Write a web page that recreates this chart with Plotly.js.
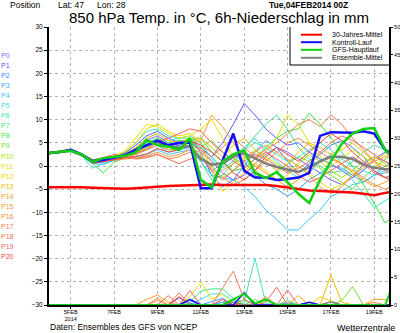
<!DOCTYPE html>
<html>
<head>
<meta charset="utf-8">
<script src="https://cdn.plot.ly/plotly-3.0.1.min.js"></script>
<style>html,body{margin:0;padding:0;background:#fff;}#chart{width:400px;height:333px;}</style>
</head>
<body>
<div id="chart"></div>
<script>
// ---- DATA ----
const stepDays = [0,0.5,1,1.5,2,2.5,3,3.5,4,4.5,5,5.5,6,6.5,7,7.5,8,8.5,9,9.5,10,10.5,11,11.5,12,12.5,13,13.5,14,14.5,15,15.5,16];
const tickDays = [1,3,5,7,9,11,13,15];
const tickLabels = ["5FEB<br>2014","7FEB","9FEB","11FEB","13FEB","15FEB","17FEB","19FEB"];
const memberNames = ["P0","P1","P2","P3","P4","P5","P6","P7","P8","P9","P10","P11","P12","P13","P14","P15","P16","P17","P18","P19","P20"];

// 850 hPa temperature of ensemble members (°C)
const tP0  = [2.6,2.9,3.3,2.3,0.8,1.2,1.9,2.6,3.8,5.5,6.5,5.0,4.5,5.2, 3.5,1.0,-1.5,-3.0,-2.0,0.5,2.5,4.0,3.0,1.5,0.0,-1.5,-3.0,-4.0,-2.5,0.5,2.0,1.0,-0.5];
const tP1  = [2.7,3.0,3.5,2.6,1.0,1.4,2.0,2.8,4.5,6.5,7.5,6.0,5.0,5.5, 4.0,2.0,5.0,9.0,13.5,11.0,8.0,6.0,4.5,5.0,3.0,1.5,0.5,-1.0,-2.5,-1.0,1.5,3.0,2.5];
const tP2  = [2.8,3.1,3.4,2.4,0.7,1.0,1.6,2.2,3.0,4.0,5.0,4.0,4.5,5.5, 3.0,-2.0,-4.5,-3.0,0.0,3.0,5.5,4.0,1.0,-1.5,0.5,2.5,4.5,5.5,4.0,2.0,-1.0,-2.5,-3.0];
const tP3  = [2.6,2.9,3.2,2.2,0.5,0.8,1.5,2.0,2.5,3.5,4.5,3.0,3.5,4.0, 2.0,-1.0,0.5,2.5,1.0,-2.0,-4.0,-5.0,-6.5,-5.0,-3.0,-1.5,0.0,-0.5,-2.0,-3.5,-2.0,0.0,1.0];
const tP4  = [2.8,3.0,3.3,2.4,0.6,0.3,1.2,1.8,2.0,2.5,3.5,2.5,3.0,3.5, 1.0,-2.0,-2.5,-3.0,-4.5,-6.6,-9.5,-11.5,-13.8,-13.8,-11.5,-9.5,-6.6,-5.5,-4.0,-3.5,-2.0,-1.5,-1.0];
const tP5  = [2.7,3.0,3.4,2.3,-0.5,0.5,1.4,2.5,4.0,6.0,7.0,5.5,6.0,6.5, 5.0,1.5,0.0,2.0,4.0,6.0,3.0,1.0,-1.0,-2.5,-1.5,1.0,2.5,1.5,0.0,-1.0,-2.0,-1.0,0.5];
const tP6  = [2.8,3.1,3.6,2.6,1.1,1.5,2.1,3.0,5.0,7.5,8.0,6.5,6.0,6.0, 4.5,2.0,-0.5,1.0,3.5,5.0,4.0,2.5,1.0,2.0,3.5,5.0,3.5,0.5,-3.0,-6.0,-9.0,-7.5,-6.0];
const tP7  = [2.7,3.0,3.3,2.5,0.9,1.3,1.8,2.3,3.5,5.0,6.0,4.5,4.0,4.0, 1.0,-3.0,-2.0,0.5,3.5,6.5,9.0,11.0,8.0,4.0,1.5,0.0,-1.5,-1.0,1.0,3.0,4.5,3.5,2.0];
const tP8  = [2.9,3.2,3.5,2.4,0.6,-1.5,0.8,1.8,3.0,4.5,6.0,5.0,5.5,5.5, 6.0,3.0,1.0,-1.0,-0.5,1.5,4.0,6.0,7.5,8.0,11.4,9.0,6.0,3.0,0.0,-4.0,-8.0,-12.3,-10.5];
const tP9  = [2.8,3.0,3.3,2.5,1.0,1.4,1.9,2.4,3.3,4.5,5.5,4.5,5.0,5.2, 4.0,5.5,3.0,1.5,0.5,-1.0,-2.5,-1.5,0.5,2.0,1.0,-0.5,-2.0,-3.5,-5.0,-2.5,-0.5,1.5,3.0];
const tP10 = [2.6,2.9,3.2,2.3,0.8,1.2,1.7,2.1,2.8,4.0,5.0,3.5,3.5,4.5, 2.5,0.0,-2.5,-1.0,1.5,3.5,2.0,0.5,-1.0,0.5,2.5,1.0,-1.0,-2.5,-1.0,1.0,2.0,0.5,-1.5];
const tP11 = [2.7,3.0,3.4,2.5,1.0,1.5,2.1,3.2,6.0,9.0,8.5,7.0,6.0,6.5, 8.0,10.0,6.0,2.0,-1.0,0.5,3.0,6.0,11.0,9.0,5.0,2.0,0.0,1.5,3.5,2.0,0.5,-1.0,-2.0];
const tP12 = [2.8,3.1,3.5,2.6,1.1,1.6,2.2,3.0,5.0,8.0,9.0,7.5,6.5,7.0, 5.0,-1.0,-5.5,-3.5,-1.5,0.5,-1.0,-3.0,-2.0,0.0,-1.5,-3.5,-5.0,-4.0,-2.0,0.0,1.5,2.5,3.5];
const tP13 = [2.9,3.2,3.6,2.6,1.0,1.2,1.7,2.5,4.0,6.0,7.0,5.5,5.0,6.0, 6.0,4.0,2.0,4.5,6.0,3.5,1.0,-1.0,0.5,3.0,5.0,4.0,2.5,3.5,5.0,3.0,1.0,0.0,-0.5];
const tP14 = [2.7,3.0,3.3,2.4,0.8,1.0,1.5,1.9,2.5,3.5,4.5,3.5,4.0,5.0, 5.5,11.0,8.5,5.0,2.0,0.0,-1.5,-3.0,-4.5,-3.0,-1.0,1.0,2.0,0.5,-1.5,-3.0,-4.5,-3.5,-2.0];
const tP15 = [2.8,3.0,3.3,2.5,0.9,1.3,1.5,1.6,1.8,2.2,3.0,2.0,2.5,3.5, 3.0,1.0,-1.0,0.5,2.0,3.0,4.5,3.0,1.5,0.0,-2.0,-4.5,-6.0,-4.5,-2.0,-0.5,1.0,2.0,2.5];
const tP16 = [2.6,2.9,3.2,2.2,0.7,1.0,1.3,1.5,1.7,2.0,2.5,1.5,2.0,3.0, 2.0,-0.5,-2.5,-4.0,-3.0,-1.0,1.0,3.0,5.0,6.0,4.5,3.0,1.5,0.5,-1.0,-2.5,-4.0,-5.0,-4.0];
const tP17 = [2.7,3.0,3.4,2.6,1.2,1.6,2.0,2.4,3.0,4.5,5.5,4.5,4.0,4.5, 3.5,2.0,4.0,6.0,4.0,2.0,3.5,5.0,7.0,9.0,10.0,8.5,11.0,9.0,6.0,3.5,1.0,-1.0,-2.0];
const tP18 = [2.9,3.2,3.6,2.7,1.3,1.8,2.5,2.0,1.5,1.8,2.5,1.5,0.5,1.5, 2.0,-1.0,-3.0,-1.0,1.0,2.5,1.5,0.0,-1.5,-0.5,1.0,3.0,5.0,6.5,5.5,4.0,2.5,1.0,0.0];
const tP19 = [2.8,3.0,3.4,2.4,0.9,1.4,1.9,2.4,2.8,3.6,5.2,6.0,7.0,8.0, 7.5,5.0,3.0,1.0,-0.5,1.5,3.0,1.5,0.0,-2.0,-3.5,-2.5,-1.0,0.5,2.0,0.5,-1.5,-2.5,-3.5];
const tP20 = [2.7,2.9,3.2,2.3,0.6,0.9,1.4,1.8,2.1,2.6,3.8,3.0,3.5,5.5, 4.5,3.0,1.0,-1.5,-3.0,-1.0,2.0,4.0,2.5,1.0,3.0,5.0,7.0,5.5,3.0,1.0,-1.0,-2.5,-1.5];

const tClimate = [-4.6,-4.6,-4.5,-4.6,-4.7,-4.8,-4.9,-4.9,-4.8,-4.7,-4.5,-4.3,-4.2,-4.1,-4.0,-4.0,-4.1,-4.1,-4.2,-4.2,-4.1,-4.3,-4.6,-5.0,-5.3,-5.4,-5.5,-5.6,-5.7,-6.0,-6.3,-5.8,-5.4];
const tControl = [2.8,3.0,3.5,2.5,1.0,1.3,1.8,2.3,3.5,4.5,5.5,4.5,5.0,5.0, -4.8,-4.8,1.0,7.0,-1.0,-2.5,-2.5,-3.0,-2.8,-2.5,-1.5,6.5,7.3,7.3,7.2,7.5,7.0,3.5,2.0];
const tMain    = [2.8,3.1,3.3,2.5,0.9,1.7,2.0,2.2,3.0,5.6,4.5,4.2,3.5,6.0, -3.0,-4.6,1.0,2.5,3.4,-1.5,-2.6,-1.3,-3.5,-6.0,-8.0,-3.0,1.0,4.8,7.0,8.0,8.2,3.5,1.0];
const tMean    = [2.8,3.0,3.3,2.4,1.2,1.5,1.9,2.4,3.5,4.5,5.2,4.2,4.0,4.3, 1.5,0.3,0.6,2.0,2.8,1.7,0.5,-0.2,-0.8,-1.3,-0.3,1.0,2.0,2.0,1.5,0.3,-0.4,-0.7,-0.7];

// 6h precipitation (mm), right axis
const pP0  = [0,0,0,0,0,0,0,0,0,0,0, 0,0,0,0,0,0.5,0,0,0,0,0, 0,0,0,0,0,0,0,0,0,0,0];
const pP1  = [0,0,0,0,0,0,0,0,0,0,0, 0,1.3,0.3,0,0,0,0,0,0,0,0, 0,0,0,0,0,0,0,0,0,0,0];
const pP2  = [0,0,0,0,0,0,0,0,0,0,0, 0,0,0.8,0,0,0,0,0,0,0,0, 0.4,0,0,0,0,0,0,0,0,0,0];
const pP3  = [0,0,0,0,0,0,0,0,0,0,0, 0,0,0,0,0.6,1.2,0,0,0,0,0, 0,0,0,0,0,0,0,0,0,0,0];
const pP4  = [0,0,0,0,0,0,0,0,0,0,0, 0,0,0,0,0,0.5,0.8,0,0,0,0, 0,0,0,0,0,0,0,0,0,0,0];
const pP5  = [0,0,0,0,0,0,0,0,0,0,0, 0,0,0,1.0,2.0,2.0,0.8,0.8,0,0,0, 0,0,0,0,0,0,0,0,0,0,0];
const pP6  = [0,0,0,0,0,0,0,0,0,0,0, 0,0,0,0,0,0,0,0.5,8.4,0.3,0, 0,0,0,0,0,0,0,0,0,0,0];
const pP7  = [0,0,0,0,0,0,0,0,0,0,0, 0,0,0.5,2.5,2.9,2.9,1.2,0,0,0,0, 0,0,0,0,0,0,0,0,0,0,0];
const pP8  = [0,0,0,0,0,0,0,0,0,0,0, 0,0,0,0,0,0,0,0,1.0,0,0, 0.8,0,0,0,0,0,0,0,0,0,0];
const pP9  = [0,0,0,0,0,0,0,0,0,0,0, 0,0,0,0,0,0,0,0,0,0,0, 0,0,0,0,0,0.8,3.3,0,0,0,0];
const pP10 = [0,0,0,0,0,0,0,0,0,0,0, 0,0,0,0,0,0,1.0,0,0,0,0, 0,0,0.5,0,0,0,0,0,0,0,0];
const pP11 = [0,0,0,0,0,0,0,0,0,0,0, 0,0,1.5,4.1,1.0,2.0,0,0,0,0,0, 0,0,0,0,0,0,0,0,0,0,0];
const pP12 = [0,0,0,0,0,0,0,0,0,0,0, 0,0,0,0,0,0,0,0,0,0,0, 0,0,0,1.5,0.8,0,0,0,0,0,0];
const pP13 = [0,0,0,0,0,0,0,0,0,0,0, 0,0,0,0,0,0,0,0,0,0,0, 0,0,0,0,5.4,0.5,0,0,0,0,0];
const pP14 = [0,0,0,0,0,0,0,0,0,1.0,1.8, 0.5,0,0,0,0,0,0,0,0,0,0, 0,1.7,0,0,0,0,0,0,1.0,1.0,0];
const pP15 = [0,0,0,0,0,0,0,0,0,0,1.2, 0,0,0,0,0,0,0,1.0,0,0,0, 0,0,0,0,0,0,0,0,0,0,0];
const pP16 = [0,0,0,0,0,0,0,0,0,0,0.8, 0,0,0,0,0,0,0,0,0,1.5,0, 0,0,0,0,0,0,0,0,0.5,0,0];
const pP17 = [0,0,0,0,0,0,0,0,0,0,0, 0,2.2,0,0,0,3.0,6.1,1.0,0,0,0, 0,0,0,0,0,0,0,0,0,0,0];
const pP18 = [0,0,0,0,0,0,0,0,0,0,0, 1.7,0,0,0,0,0,0,0,0,0.5,3.2, 0,0,0,0,0,0,0,0,0,0,0];
const pP19 = [0,0,0,0,0,0,0,0,0,0,0, 0,0,2.6,0,0,0,0,0,0,0,0, 2.7,0,0,0,0,0,0,0,0,0,0];
const pP20 = [0,0,0,0,0,0,0,0,0,0,0, 0,1.5,0,0,0,1.0,0,0,0,0,0, 0,0,0,0,0,0,0,0,0,0,0];
const pControl = [0,0,0,0,0,0,0,0,0,0,0, 0,0,1.0,0,0,0,0,2.2,0,0,0, 0,0,0.5,0,0,0,0,0,0,0,0];
const pMain    = [0,0,0,0,0,0,0,0,0,0,0, 0,0,0,0,0,0,1.0,2.0,0.3,1.0,0, 0,0,0,0,0,0,0,0,0,0,5.0];
const pMean    = [0,0,0,0,0,0,0,0,0,0,0, 0,0,0,0,0,0,0.5,0,0,0,0, 0,0,0,0,0.6,0,0,0,0,0,0];

const legendLabels = ["30-Jahres-Mittel","Kontroll-Lauf","GFS-Hauptlauf","Ensemble-Mittel"];

// ---- STYLE ----
const memberColors = ["#8a5cff","#5a5aff","#3c82ff","#3ca0ff","#3cc3ff","#3ce1f0","#3ce6c3","#3ce68c","#3ce63c","#6ee628","#a5e600","#e6e600","#f5d200","#f5be00","#f5a01e","#f5963c","#f58c46","#f57d55","#f56e55","#f56464","#f04646"];
const FONT = "Liberation Sans, Arial, sans-serif";

const L = 49, R = 389, T = 27, B = 305;
const px = v => (v - L) / (R - L);
const py = v => (B - v) / (B - T);

const tempSeries = [tP0,tP1,tP2,tP3,tP4,tP5,tP6,tP7,tP8,tP9,tP10,tP11,tP12,tP13,tP14,tP15,tP16,tP17,tP18,tP19,tP20];
const precSeries = [pP0,pP1,pP2,pP3,pP4,pP5,pP6,pP7,pP8,pP9,pP10,pP11,pP12,pP13,pP14,pP15,pP16,pP17,pP18,pP19,pP20];

const traces = [];
tempSeries.forEach((vals, i) => traces.push({x: stepDays, y: vals, type:'scatter', mode:'lines', line:{color: memberColors[i], width:1}, hoverinfo:'skip'}));
precSeries.forEach((vals, i) => traces.push({x: stepDays, y: vals, yaxis:'y2', type:'scatter', mode:'lines', line:{color: memberColors[i], width:1}, hoverinfo:'skip'}));
traces.push({x: stepDays, y: pMean, yaxis:'y2', type:'scatter', mode:'lines', line:{color:'#808080', width:1.5}, hoverinfo:'skip'});
traces.push({x: stepDays, y: pControl, yaxis:'y2', type:'scatter', mode:'lines', line:{color:'#1010ff', width:1.5}, hoverinfo:'skip'});
traces.push({x: stepDays, y: pMain, yaxis:'y2', type:'scatter', mode:'lines', line:{color:'#10d010', width:2}, hoverinfo:'skip'});
traces.push({x: stepDays, y: tMean, type:'scatter', mode:'lines', line:{color:'#808080', width:2.5}, hoverinfo:'skip'});
traces.push({x: stepDays, y: tClimate, type:'scatter', mode:'lines', line:{color:'#ff0000', width:2.5}, hoverinfo:'skip'});
traces.push({x: stepDays, y: tControl, type:'scatter', mode:'lines', line:{color:'#1010ff', width:2.5}, hoverinfo:'skip'});
traces.push({x: stepDays, y: tMain, type:'scatter', mode:'lines', line:{color:'#10d010', width:2.5}, hoverinfo:'skip'});

const annotations = [];
const ann = (text, x, y, opts) => annotations.push(Object.assign({text, x: px(x), y: py(y), xref:'paper', yref:'paper', showarrow:false, xanchor:'left', yanchor:'middle', borderpad:0, font:{family:FONT, size:7, color:'#000'}}, opts||{}));

memberNames.forEach((n, i) => ann(n, 0, 55.5 + 10.05 * i, {font:{family:FONT, size:7, color: memberColors[i]}}));
ann("Position", 9, 4.5, {font:{family:FONT, size:8.5, color:'#000'}});
ann("Lat: 47", 57, 4.5, {font:{family:FONT, size:8.5, color:'#000'}});
ann("Lon: 28", 96, 4.5, {font:{family:FONT, size:8.5, color:'#000'}});
ann("<b>Tue,04FEB2014 00Z</b>", 268, 4.5, {font:{family:FONT, size:8.5, color:'#000'}});
ann("850 hPa Temp. in °C, 6h-Niederschlag in mm", 219, 17, {xanchor:'center', font:{family:FONT, size:15, color:'#000'}});
ann("Daten: Ensembles des GFS von NCEP", 49, 326.5, {font:{family:FONT, size:8.5, color:'#000'}});
ann("Wetterzentrale", 396, 327.5, {xanchor:'right', font:{family:FONT, size:9, color:'#000'}});

const legendColors = ['#ff0000','#1010ff','#10d010','#808080'];
const legendY = [34.7, 42.2, 49.8, 57.8];
const shapes = [
  {type:'rect', xref:'paper', yref:'paper', x0:px(290.5), x1:px(388), y0:py(64.5), y1:py(27), fillcolor:'#fff', line:{width:0}, layer:'above'}
];
legendLabels.forEach((lab, i) => {
  shapes.push({type:'line', xref:'paper', yref:'paper', x0:px(301), x1:px(322), y0:py(legendY[i]), y1:py(legendY[i]), line:{color:legendColors[i], width:2}, layer:'above'});
  ann(lab, 331, legendY[i], {font:{family:FONT, size:7, color:'#000'}});
});
shapes.push({type:'path', xref:'paper', yref:'paper', path:`M ${px(290)} ${py(27)} L ${px(290)} ${py(65)} L ${px(389)} ${py(65)}`, line:{color:'#000', width:1}, layer:'above'});

const grid = {showgrid:true, gridcolor:'#b4b4b4', griddash:'dot', gridwidth:1};
const layout = {
  width:400, height:333,
  margin:{l:L, r:400-R, t:T, b:333-B, pad:0},
  paper_bgcolor:'#fff', plot_bgcolor:'#fff',
  showlegend:false,
  xaxis: Object.assign({range:[0,15.68], tickmode:'array', tickvals:tickDays, ticktext:tickLabels, ticks:'outside', ticklen:2, tickcolor:'#000',
    ticklabelstandoff:-2, tickfont:{family:FONT, size:5.5, color:'#000'}, showline:true, linewidth:2, linecolor:'#000', zeroline:false, fixedrange:true}, grid),
  yaxis: Object.assign({range:[-30,30], tick0:-30, dtick:5, ticks:'outside', ticklen:3, tickcolor:'#000',
    tickfont:{family:FONT, size:6.5, color:'#000'}, showline:true, linewidth:2, linecolor:'#000', zeroline:false, fixedrange:true}, grid),
  yaxis2: {range:[0,50], tick0:0, dtick:5, overlaying:'y', side:'right', showgrid:false, ticks:'outside', ticklen:2, tickcolor:'#000',
    tickfont:{family:FONT, size:5.5, color:'#000'}, showline:true, linewidth:2, linecolor:'#000', zeroline:false, fixedrange:true},
  shapes, annotations
};
Plotly.newPlot('chart', traces, layout, {staticPlot:true, displayModeBar:false});
</script>
</body>
</html>
